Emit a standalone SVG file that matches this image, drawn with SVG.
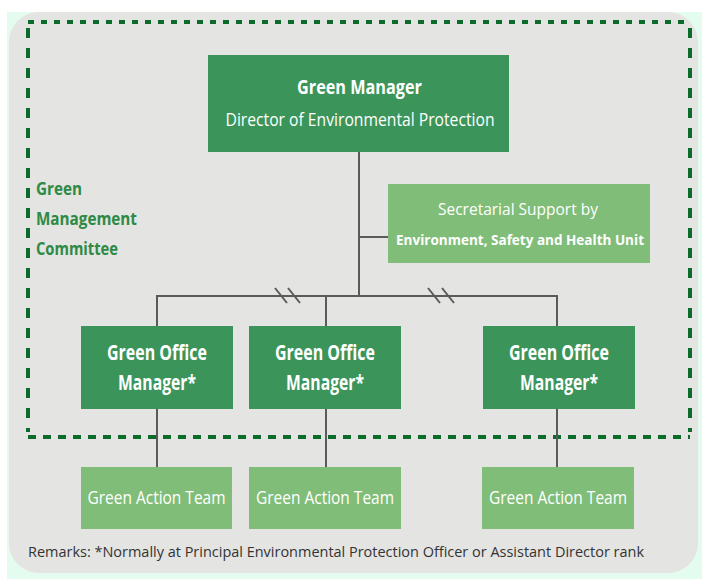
<svg xmlns="http://www.w3.org/2000/svg" width="702" height="579" viewBox="0 0 702 579">
<style>
text{font-family:"Open Sans","Liberation Sans",sans-serif;fill:#ffffff}
.dk{fill:#3b955a}
.lt{fill:#80bd78}
.b{font-weight:bold}
.conn line{stroke:#5a5a5a;stroke-width:2}
.lbl{fill:#2e8a45;font-weight:bold;font-size:17px}
</style>
<rect x="7" y="12" width="695" height="567" fill="#e3fcef"/>
<rect x="9" y="12" width="689" height="561" rx="30" fill="#e4e4e2"/>
<g id="committee-border" fill="none" stroke="#0c6b2c" stroke-width="4">
<line x1="28" y1="22" x2="690" y2="22" stroke-dasharray="6 7"/>
<line x1="28" y1="28" x2="28" y2="432" stroke-dasharray="10 10"/>
<line x1="690" y1="28" x2="690" y2="432" stroke-dasharray="10 10"/>
<line x1="28" y1="437" x2="690" y2="437" stroke-dasharray="8 7"/>
</g>
<g id="committee-label">
<text class="lbl" x="36" y="195" textLength="46" lengthAdjust="spacingAndGlyphs">Green</text>
<text class="lbl" x="36" y="225" textLength="101" lengthAdjust="spacingAndGlyphs">Management</text>
<text class="lbl" x="36" y="255" textLength="82" lengthAdjust="spacingAndGlyphs">Committee</text>
</g>
<g id="connectors" class="conn">
<line x1="359" y1="152" x2="359" y2="297"/>
<line x1="359" y1="237" x2="388" y2="237"/>
<line x1="156" y1="296" x2="558" y2="296"/>
<line x1="157" y1="295" x2="157" y2="326"/>
<line x1="326" y1="296" x2="326" y2="326"/>
<line x1="557" y1="295" x2="557" y2="326"/>
<line x1="157" y1="409" x2="157" y2="467"/>
<line x1="326" y1="409" x2="326" y2="467"/>
<line x1="557" y1="409" x2="557" y2="467"/>
<line x1="275" y1="288" x2="287" y2="303"/>
<line x1="288" y1="288" x2="300" y2="303"/>
<line x1="428" y1="288" x2="440" y2="303"/>
<line x1="442" y1="288" x2="454" y2="303"/>
</g>
<g id="green-manager">
<rect class="dk" x="208" y="55" width="301" height="97"/>
<text class="b" x="359.5" y="94" font-size="19" text-anchor="middle" textLength="125" lengthAdjust="spacingAndGlyphs">Green Manager</text>
<text x="360" y="126" font-size="19" text-anchor="middle" textLength="269" lengthAdjust="spacingAndGlyphs">Director of Environmental Protection</text>
</g>
<g id="secretarial-support">
<rect class="lt" x="388" y="184" width="262" height="79"/>
<text x="518" y="215" font-size="17" text-anchor="middle" textLength="160" lengthAdjust="spacingAndGlyphs">Secretarial Support by</text>
<text class="b" x="520" y="245" font-size="15" text-anchor="middle" textLength="248" lengthAdjust="spacingAndGlyphs">Environment, Safety and Health Unit</text>
</g>
<g id="office-manager-1">
<rect class="dk" x="81" y="326" width="152" height="83"/>
<text class="b" x="157" y="360" font-size="21" text-anchor="middle" textLength="100" lengthAdjust="spacingAndGlyphs">Green Office</text>
<text class="b" x="157" y="390" font-size="21" text-anchor="middle" textLength="78" lengthAdjust="spacingAndGlyphs">Manager*</text>
</g>
<g id="office-manager-2">
<rect class="dk" x="249" y="326" width="152" height="83"/>
<text class="b" x="325" y="360" font-size="21" text-anchor="middle" textLength="100" lengthAdjust="spacingAndGlyphs">Green Office</text>
<text class="b" x="325" y="390" font-size="21" text-anchor="middle" textLength="78" lengthAdjust="spacingAndGlyphs">Manager*</text>
</g>
<g id="office-manager-3">
<rect class="dk" x="483" y="326" width="152" height="83"/>
<text class="b" x="559" y="360" font-size="21" text-anchor="middle" textLength="100" lengthAdjust="spacingAndGlyphs">Green Office</text>
<text class="b" x="559" y="390" font-size="21" text-anchor="middle" textLength="78" lengthAdjust="spacingAndGlyphs">Manager*</text>
</g>
<g id="action-team-1">
<rect class="lt" x="81" y="467" width="151" height="62"/>
<text x="156.5" y="504" font-size="18" text-anchor="middle" textLength="138" lengthAdjust="spacingAndGlyphs">Green Action Team</text>
</g>
<g id="action-team-2">
<rect class="lt" x="249" y="467" width="152" height="62"/>
<text x="325" y="504" font-size="18" text-anchor="middle" textLength="138" lengthAdjust="spacingAndGlyphs">Green Action Team</text>
</g>
<g id="action-team-3">
<rect class="lt" x="482" y="467" width="152" height="62"/>
<text x="558" y="504" font-size="18" text-anchor="middle" textLength="138" lengthAdjust="spacingAndGlyphs">Green Action Team</text>
</g>
<text x="28" y="557" font-size="15" style="fill:#333333" textLength="616" lengthAdjust="spacingAndGlyphs">Remarks: *Normally at Principal Environmental Protection Officer or Assistant Director rank</text>
</svg>
